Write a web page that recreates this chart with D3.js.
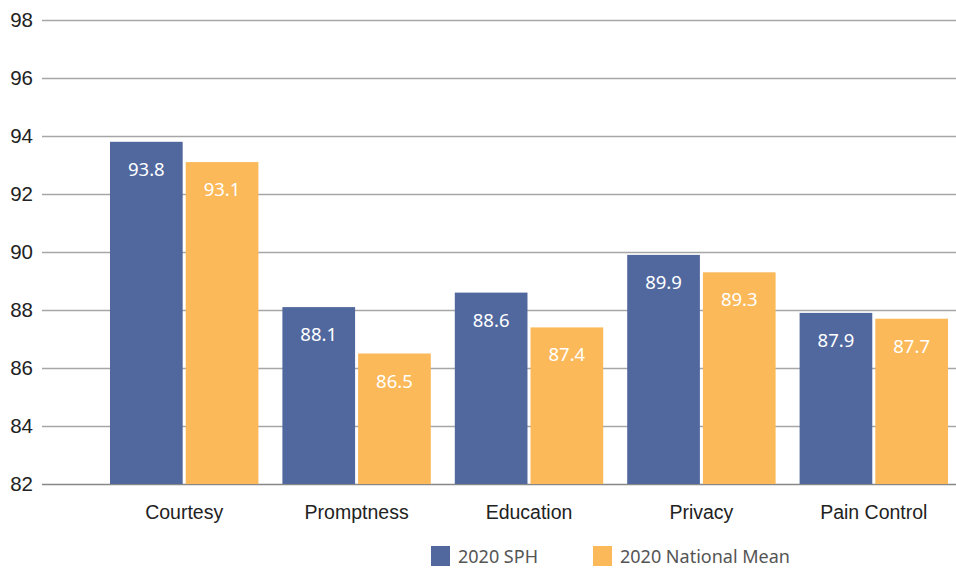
<!DOCTYPE html>
<html>
<head>
<meta charset="utf-8">
<script src="https://cdn.jsdelivr.net/npm/d3@7"></script>
<style>
  html, body { margin: 0; padding: 0; background: #fff; }
  svg { display: block; font-family: "Noto Sans", "Open Sans", sans-serif; }
</style>
</head>
<body>
<svg id="chart" width="956" height="569"></svg>
<script>
// Patient experience scores by domain
const categories = ["Courtesy", "Promptness", "Education", "Privacy", "Pain Control"];
const seriesNames = ["2020 SPH", "2020 National Mean"];
const sphValues = [93.8, 88.1, 88.6, 89.9, 87.9];
const nationalValues = [93.1, 86.5, 87.4, 89.3, 87.7];
const yTicks = [82, 84, 86, 88, 90, 92, 94, 96, 98];
const colors = ["#51689f", "#fbb95a"];

const svg = d3.select("#chart");

const y = d3.scaleLinear().domain([82, 98]).range([484, 20]);
const x = d3.scaleBand().domain(categories).range([98, 960]).paddingInner(0).paddingOuter(0);
const xs = d3.scaleBand().domain(seriesNames).range([12, x.bandwidth() - 12]).paddingInner(0.04);

// horizontal gridlines and y tick labels
const yAxis = d3.axisLeft(y).tickValues(yTicks).tickSize(-(956 - 42)).tickPadding(9).tickFormat(d3.format("d"));
const ga = svg.append("g").attr("transform", "translate(42,0)").call(yAxis);
ga.select(".domain").remove();
ga.selectAll(".tick line").attr("stroke", d => d === 82 ? "#888" : "#a6a6a6").attr("stroke-width", 1.3);
ga.selectAll(".tick text").attr("font-size", 20.5).attr("fill", "#222").attr("font-family", "inherit");

const rows = categories.map((c, i) => ({ cat: c, vals: [sphValues[i], nationalValues[i]] }));

const groups = svg.append("g").selectAll("g").data(rows).join("g")
  .attr("transform", d => `translate(${x(d.cat)},0)`);

const cells = groups.selectAll("g").data(d => d.vals.map((v, j) => ({ v, s: seriesNames[j], j }))).join("g");

cells.append("rect")
  .attr("x", d => xs(d.s))
  .attr("width", xs.bandwidth())
  .attr("y", d => y(d.v))
  .attr("height", d => y(82) - y(d.v))
  .attr("fill", d => colors[d.j]);

cells.append("text")
  .attr("x", d => xs(d.s) + xs.bandwidth() / 2)
  .attr("y", d => y(d.v) + 34)
  .attr("text-anchor", "middle")
  .attr("font-size", 18.5)
  .attr("fill", "#fff")
  .text(d => d.v.toFixed(1));

// category labels
const xAxis = d3.axisBottom(x).tickSize(0).tickPadding(21);
const gx = svg.append("g").attr("transform", "translate(0,484)").call(xAxis);
gx.select(".domain").remove();
gx.selectAll(".tick text").attr("font-size", 19.5).attr("fill", "#222").attr("font-family", "inherit");

// legend
const legendX = [431, 593];
const lg = svg.append("g").selectAll("g").data(seriesNames).join("g")
  .attr("transform", (d, i) => `translate(${legendX[i]},546)`);
lg.append("rect").attr("width", 19).attr("height", 20).attr("fill", (d, i) => colors[i]);
lg.append("text").attr("x", 27).attr("y", 17).attr("font-size", 18).attr("fill", "#555").text(d => d);
</script>
</body>
</html>
